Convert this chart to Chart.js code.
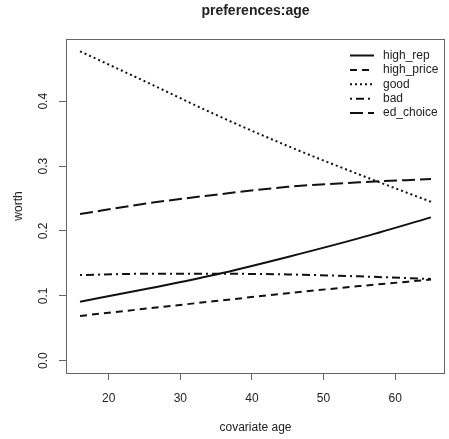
<!DOCTYPE html>
<html>
<head>
<meta charset="utf-8">
<script src="https://cdn.jsdelivr.net/npm/chart.js@4"></script>
<style>
  body { margin: 0; background: #fff; }
  #wrap { width: 449px; height: 439px; }
</style>
</head>
<body>
<div id="wrap"><canvas id="chart" width="449" height="439"></canvas></div>
<script>
/* ---------- data ---------- */
const ages = [16, 25, 35, 45, 55, 65];
const highRep   = [0.091, 0.110, 0.133, 0.160, 0.189, 0.221];
const highPrice = [0.069, 0.080, 0.092, 0.104, 0.115, 0.125];
const good      = [0.477, 0.431, 0.379, 0.331, 0.287, 0.245];
const bad       = [0.132, 0.134, 0.134, 0.133, 0.130, 0.126];
const edChoice  = [0.226, 0.242, 0.256, 0.268, 0.275, 0.280];

const seriesNames = ["high_rep", "high_price", "good", "bad", "ed_choice"];
const xTicks = [20, 30, 40, 50, 60];
const yTicks = [0.0, 0.1, 0.2, 0.3, 0.4];

/* ---------- styles ---------- */
const ink = "#111";
const axisGray = "#666";
const dashes = [[], [7, 5], [2, 3], [2, 4, 8, 4], [13, 5]];

Chart.defaults.font.family = "'Liberation Sans', Arial, sans-serif";
Chart.defaults.font.size = 12;
Chart.defaults.color = "#222";

function toPoints(ys) {
  return ages.map((a, i) => ({ x: a, y: ys[i] }));
}

const allSeries = [highRep, highPrice, good, bad, edChoice];

const datasets = allSeries.map((ys, i) => ({
  label: seriesNames[i],
  data: toPoints(ys),
  borderColor: ink,
  borderWidth: 2,
  borderDash: dashes[i],
  pointRadius: 0,
  fill: false,
  cubicInterpolationMode: "monotone"
}));

/* title, frame and legend drawn R-style */
const rStyle = {
  id: "rStyle",
  afterDraw(chart) {
    const { ctx, chartArea: a } = chart;
    ctx.save();

    // box round the plot
    ctx.strokeStyle = axisGray;
    ctx.lineWidth = 1;
    ctx.setLineDash([]);
    ctx.strokeRect(a.left + 0.5, a.top + 0.5, a.right - a.left - 1, a.bottom - a.top);

    // title, centred on the plot region
    ctx.fillStyle = "#222";
    ctx.font = "bold 14px 'Liberation Sans', Arial, sans-serif";
    ctx.textAlign = "center";
    ctx.textBaseline = "alphabetic";
    ctx.fillText("preferences:age", (a.left + a.right) / 2, 15);

    // legend, top right inside the plot
    ctx.font = "12px 'Liberation Sans', Arial, sans-serif";
    ctx.textAlign = "left";
    ctx.textBaseline = "middle";
    chart.data.datasets.forEach((ds, i) => {
      const y = 55.5 + i * 14.4;
      ctx.strokeStyle = ink;
      ctx.lineWidth = 2;
      ctx.setLineDash(ds.borderDash);
      ctx.beginPath();
      ctx.moveTo(350, y);
      ctx.lineTo(374, y);
      ctx.stroke();
      ctx.fillStyle = "#222";
      ctx.fillText(ds.label, 383, y);
    });
    ctx.restore();
  }
};

new Chart(document.getElementById("chart"), {
  type: "line",
  data: { datasets },
  options: {
    responsive: false,
    animation: false,
    layout: { padding: { top: 39, right: 4, left: 0, bottom: 0 } },
    plugins: {
      legend: { display: false },
      title: { display: false },
      tooltip: { enabled: false }
    },
    scales: {
      x: {
        type: "linear",
        min: 14.04,
        max: 66.96,
        afterBuildTicks: s => { s.ticks = xTicks.map(v => ({ value: v })); },
        afterFit: s => { s.height = 66; },
        border: { display: false },
        grid: { drawOnChartArea: false, drawTicks: true, tickLength: 7, color: axisGray },
        ticks: { padding: 11, maxRotation: 0, color: "#222" },
        title: { display: true, text: "covariate age", padding: { bottom: 4 }, color: "#222" }
      },
      y: {
        type: "linear",
        min: -0.019,
        max: 0.496,
        afterBuildTicks: s => { s.ticks = yTicks.map(v => ({ value: v })); },
        afterFit: s => { s.width = 66; },
        border: { display: false },
        grid: { drawOnChartArea: false, drawTicks: true, tickLength: 7, color: axisGray },
        ticks: {
          padding: 7,
          minRotation: 90,
          maxRotation: 90,
          crossAlign: "center",
          color: "#222",
          callback: v => Number(v).toFixed(1)
        },
        title: { display: true, text: "worth", padding: { top: 11 }, color: "#222" }
      }
    }
  },
  plugins: [rStyle]
});
</script>
</body>
</html>
